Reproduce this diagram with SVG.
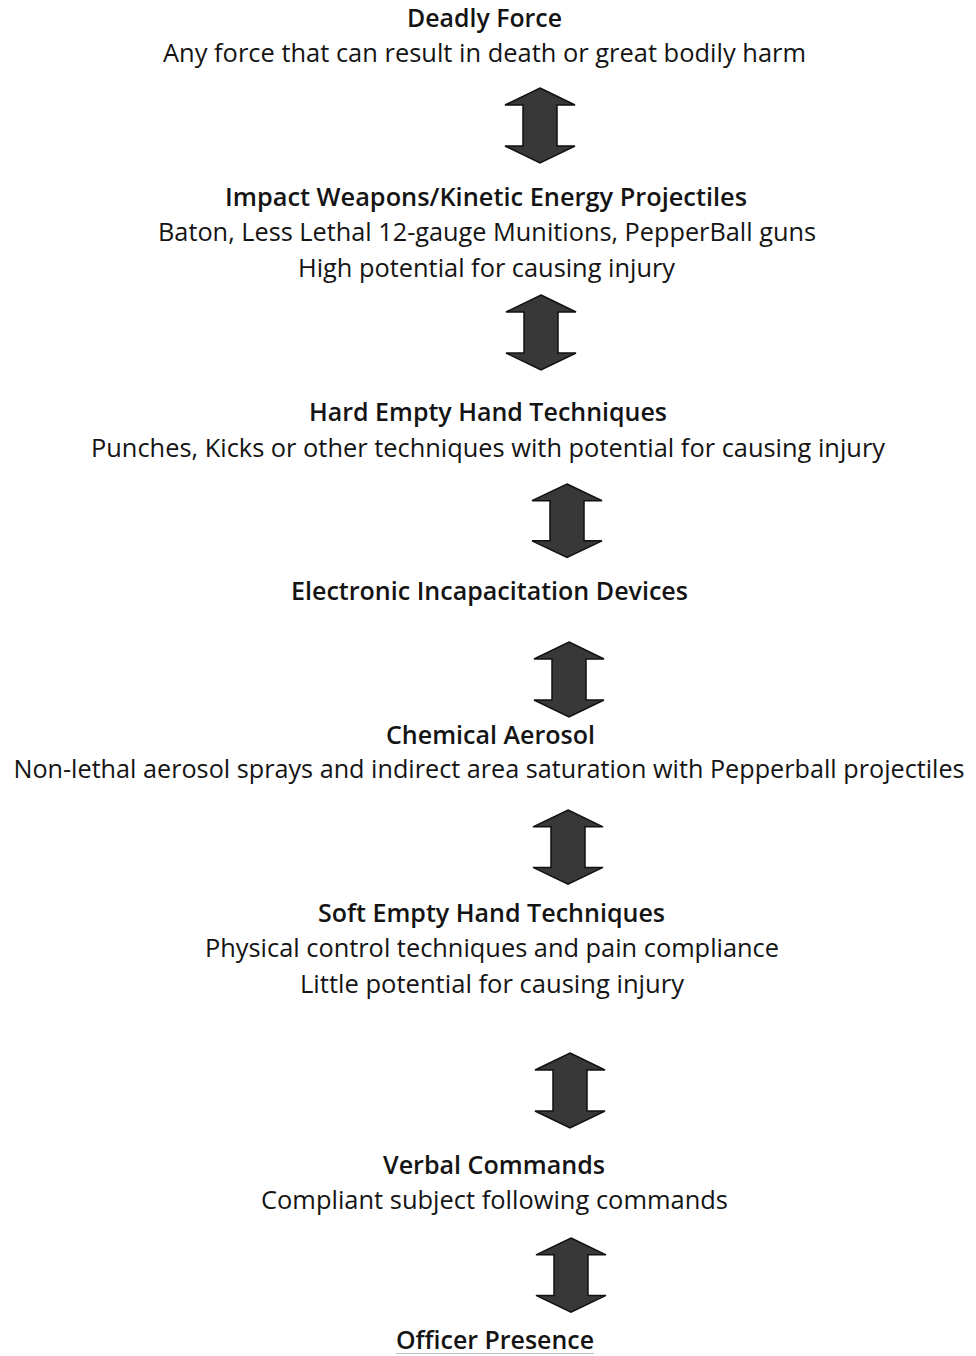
<svg xmlns="http://www.w3.org/2000/svg" width="976" height="1356" viewBox="0 0 976 1356">
<style>
  text { font-family: "Open Sans", "Noto Sans", "Liberation Sans", sans-serif; font-size: 26px; fill: #141414; text-anchor: middle; }
  .t { font-weight: 600; }
  .arrow { fill: #383838; stroke: #111; stroke-width: 1.5; stroke-linejoin: miter; }
</style>
<defs>
  <!-- double arrow, centered at x=0, from y=0 to y=75 -->
  <path id="dbl" d="M0,0 L35,17 L17,17 L17,58 L35,58 L0,75 L-35,58 L-17,58 L-17,17 L-35,17 Z"/>
</defs>
<rect width="976" height="1356" fill="#fff"/>

<g id="connectors">
  <use href="#dbl" class="arrow" transform="translate(540,88)"/>
  <use href="#dbl" class="arrow" transform="translate(541,295)"/>
  <use href="#dbl" class="arrow" transform="translate(567,484) scale(1,0.98)"/>
  <use href="#dbl" class="arrow" transform="translate(569,642)"/>
  <use href="#dbl" class="arrow" transform="translate(568,810) scale(1,0.99)"/>
  <use href="#dbl" class="arrow" transform="translate(570,1053)"/>
  <use href="#dbl" class="arrow" transform="translate(571,1238) scale(1,0.99)"/>
</g>

<g id="deadly-force">
  <text class="t" x="484.5" y="27" textLength="155" lengthAdjust="spacingAndGlyphs">Deadly Force</text>
  <text x="484.5" y="62" textLength="643" lengthAdjust="spacingAndGlyphs">Any force that can result in death or great bodily harm</text>
</g>

<g id="impact-weapons">
  <text class="t" x="486" y="206" textLength="522" lengthAdjust="spacingAndGlyphs">Impact Weapons/Kinetic Energy Projectiles</text>
  <text x="487" y="241" textLength="658" lengthAdjust="spacingAndGlyphs">Baton, Less Lethal 12-gauge Munitions, PepperBall guns</text>
  <text x="486.5" y="277" textLength="377" lengthAdjust="spacingAndGlyphs">High potential for causing injury</text>
</g>

<g id="hard-empty-hand">
  <text class="t" x="488" y="421" textLength="358" lengthAdjust="spacingAndGlyphs">Hard Empty Hand Techniques</text>
  <text x="488" y="457" textLength="794" lengthAdjust="spacingAndGlyphs">Punches, Kicks or other techniques with potential for causing injury</text>
</g>

<g id="electronic-incapacitation">
  <text class="t" x="489.5" y="600" textLength="397" lengthAdjust="spacingAndGlyphs">Electronic Incapacitation Devices</text>
</g>

<g id="chemical-aerosol">
  <text class="t" x="490.5" y="744" textLength="209" lengthAdjust="spacingAndGlyphs">Chemical Aerosol</text>
  <text transform="translate(489,778) scale(0.82,1)" x="0" y="0" textLength="1160" lengthAdjust="spacingAndGlyphs">Non-lethal aerosol sprays and indirect area saturation with Pepperball projectiles</text>
</g>

<g id="soft-empty-hand">
  <text class="t" x="491.5" y="922" textLength="347" lengthAdjust="spacingAndGlyphs">Soft Empty Hand Techniques</text>
  <text x="492" y="957" textLength="574" lengthAdjust="spacingAndGlyphs">Physical control techniques and pain compliance</text>
  <text x="492" y="993" textLength="384" lengthAdjust="spacingAndGlyphs">Little potential for causing injury</text>
</g>

<g id="verbal-commands">
  <text class="t" x="494" y="1174" textLength="222" lengthAdjust="spacingAndGlyphs">Verbal Commands</text>
  <text x="494.5" y="1209" textLength="467" lengthAdjust="spacingAndGlyphs">Compliant subject following commands</text>
</g>

<g id="officer-presence">
  <text class="t" x="495" y="1349" textLength="198" lengthAdjust="spacingAndGlyphs">Officer Presence</text>
  <line x1="396" y1="1353.5" x2="594" y2="1353.5" stroke="#bdbdbd" stroke-width="1"/>
</g>
</svg>
